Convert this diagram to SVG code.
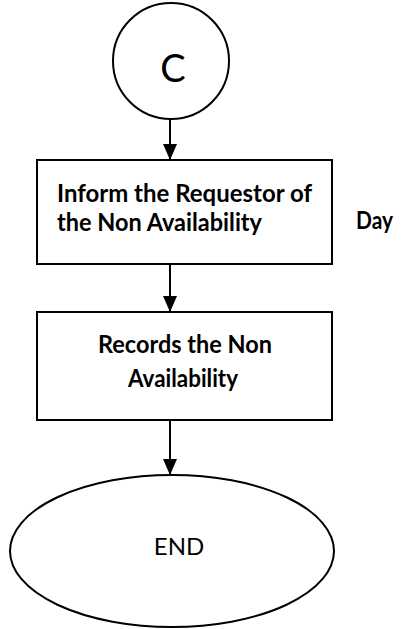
<svg xmlns="http://www.w3.org/2000/svg" width="405" height="629" viewBox="0 0 405 629">
  <style>
    .shape { fill: #ffffff; stroke: #000000; stroke-width: 2; }
    .link { fill: none; stroke: #000000; stroke-width: 2; }
    .bold { font-family: Lato, "Liberation Sans", sans-serif; font-weight: 700; font-size: 24px; fill: #000000; }
    .plain { font-family: Lato, "Liberation Sans", sans-serif; font-weight: 400; fill: #000000; }
  </style>
  <defs>
    <!-- filled arrowhead, tip at the end of the line -->
    <marker id="arrow" viewBox="0 0 16 14" refX="16" refY="7" markerWidth="16" markerHeight="14" markerUnits="userSpaceOnUse" orient="auto">
      <path d="M0,0 L16,7 L0,14 Z" fill="#000000"/>
    </marker>
  </defs>
  <rect width="405" height="629" fill="#ffffff"/>

  <!-- connector node C -->
  <g id="node-c">
    <circle class="shape" cx="171" cy="61" r="58"/>
    <text class="plain" x="173" y="82" font-size="38" text-anchor="middle">C</text>
  </g>

  <!-- inform the requestor -->
  <g id="node-inform">
    <rect class="shape" x="37" y="160" width="295" height="104"/>
    <text class="bold" x="57" y="202" textLength="255" lengthAdjust="spacingAndGlyphs">Inform the Requestor of</text>
    <text class="bold" x="57" y="231" textLength="205" lengthAdjust="spacingAndGlyphs">the Non Availability</text>
  </g>

  <!-- side label -->
  <g id="label-day">
    <text class="bold" x="356" y="229" textLength="37" lengthAdjust="spacingAndGlyphs">Day</text>
  </g>

  <!-- record the non availability -->
  <g id="node-records">
    <rect class="shape" x="37" y="312" width="295" height="108"/>
    <text class="bold" x="185" y="353" text-anchor="middle" textLength="174" lengthAdjust="spacingAndGlyphs">Records the Non</text>
    <text class="bold" x="183" y="387" text-anchor="middle" textLength="110" lengthAdjust="spacingAndGlyphs">Availability</text>
  </g>

  <!-- terminator -->
  <g id="node-end">
    <ellipse class="shape" cx="172" cy="551" rx="162" ry="76" stroke-width="2.5"/>
    <text class="plain" x="179" y="555" font-size="24" text-anchor="middle">END</text>
  </g>

  <!-- connectors -->
  <g id="connectors">
    <line class="link" x1="170" y1="119" x2="170" y2="160" marker-end="url(#arrow)"/>
    <line class="link" x1="170" y1="264" x2="170" y2="312" marker-end="url(#arrow)"/>
    <line class="link" x1="170" y1="420" x2="170" y2="475" marker-end="url(#arrow)"/>
  </g>
</svg>
